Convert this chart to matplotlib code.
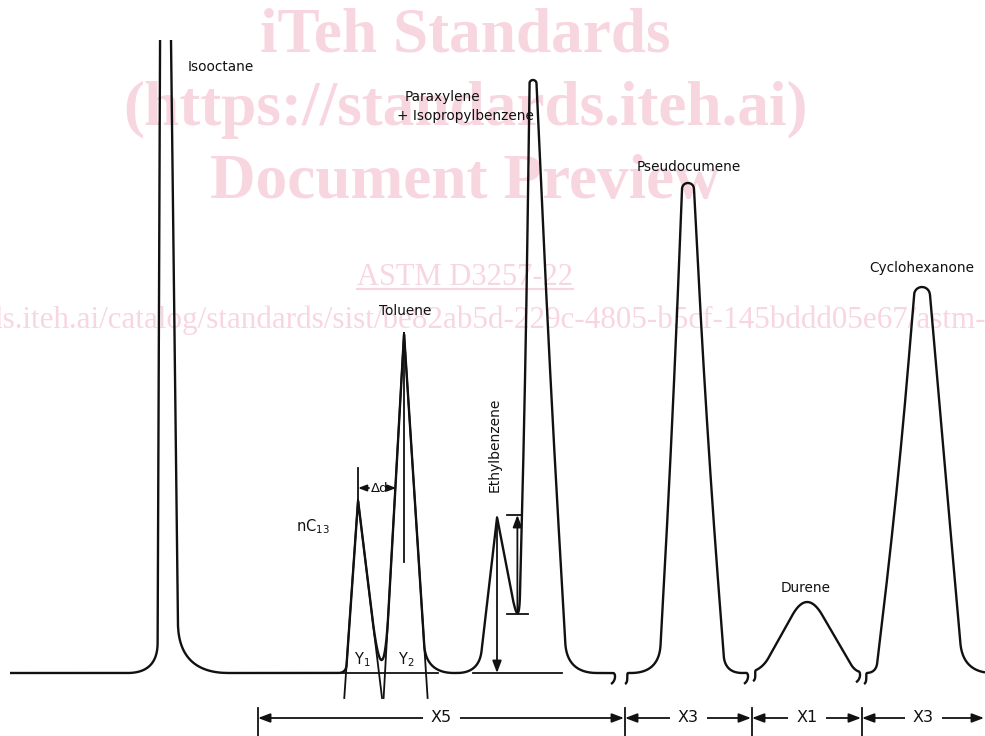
import numpy as np
import matplotlib
matplotlib.use('Agg')
import matplotlib.pyplot as plt
from matplotlib.patches import FancyArrowPatch, Rectangle

# Peaks, in plot units (1 unit = 1 pixel of the drawing): retention position,
# height above baseline, half-width at the base (tangent feet) and at half height.
PEAK_NAMES = ['Isooctane', 'nC13', 'Toluene', 'Ethylbenzene',
              'Paraxylene + Isopropylbenzene', 'Pseudocumene', 'Durene',
              'Cyclohexanone']
PEAK_RT = [163.5, 358, 404, 497, 533, 688, 807, 922]
PEAK_HEIGHT = [1266, 173, 340, 156, 593, 490, 84, 386]
FOOT_LEFT = [6, 12, 19, 18, 15, 29, 47, 46]
FOOT_RIGHT = [15, 21, 22, 30, 34, 37, 49, 41]
HALF_LEFT = [3.5, 6, 9.5, 9, 7.5, 15.5, 23.5, 23]
HALF_RIGHT = [7.5, 10.5, 11, 15, 17, 18.5, 24.5, 24]
MERGED_WITH_NEXT = [False, True, False, True, False, False, False, False]

# shape of the corners: round cap radius, tip / knee / foot / valley rounding
CAP = [0, 0, 0, 0, 3.5, 6, 0, 8]
TIP_ROUND = [0, 2, 3, 2, 0, 0, 30, 0]
KNEE_ROUND = [0, 0, 0, 0, 150, 160, 0, 140]
FOOT_ROUND_LEFT = [30, 8, 8, 22, 0, 28, 30, 20]
FOOT_ROUND_RIGHT = [50, 0, 28, 0, 30, 35, 30, 30]
VALLEY_ROUND = [0, 94, 0, 44, 0, 0, 0, 0]

# the trace is broken into pieces (time axis compressed)
SEGMENTS = [(10, 613), (628, 746), (756, 858), (867, 985)]
BASELINE = 673
TOP_CUT = 40          # isooctane goes off scale
TANGENT_END = 698

DIM_EDGES = [258, 625, 752, 862, 985]
DIM_LABELS = ['X5', 'X3', 'X1', 'X3']
DIM_Y = 718

LABELS = [
    ('Isooctane', 188, 67, 'left'),
    ('Paraxylene', 405, 97, 'left'),
    ('+ Isopropylbenzene', 397, 116, 'left'),
    ('Pseudocumene', 689, 167, 'center'),
    ('Cyclohexanone', 922, 268, 'center'),
    ('Toluene', 405, 311, 'center'),
    ('Durene', 806, 588, 'center'),
]

WATERMARK = [
    ('iTeh Standards', 465, 52, 45.5, 'bold', 'center'),
    ('(https://standards.iteh.ai)', 465, 125, 45.5, 'bold', 'center'),
    ('Document Preview', 465, 198, 45.5, 'bold', 'center'),
    ('ASTM D3257-22', 465, 285, 22, 'normal', 'center'),
    ('https://standards.iteh.ai/catalog/standards/sist/'
     'be82ab5d-229c-4805-b5cf-145bddd05e67/astm-', 986, 328, 22.4, 'normal', 'right'),
]
WM_COLOR = '#f8d6e0'
INK = '#111111'
LW = 1.7


def leg_x(i, side, resp):
    # straight tangent from the apex to the foot
    c, h = PEAK_RT[i], PEAK_HEIGHT[i]
    w = FOOT_LEFT[i] if side < 0 else FOOT_RIGHT[i]
    return c + side * w * (1 - resp / h)


def intersect(p1, p2, q1, q2):
    d1, d2 = p2 - p1, q2 - q1
    t = np.cross(q1 - p1, d2) / np.cross(d1, d2)
    return p1 + t * d1


def build_vertices():
    verts, radii, caps = [np.array([SEGMENTS[0][0], 0.0])], [0], {}

    def add(p, r):
        verts.append(np.asarray(p, float))
        radii.append(r)

    for i, c in enumerate(PEAK_RT):
        h = PEAK_HEIGHT[i]
        foot_l = np.array([c - FOOT_LEFT[i], 0.0])
        knee_l = np.array([c - HALF_LEFT[i], h / 2])
        knee_r = np.array([c + HALF_RIGHT[i], h / 2])
        foot_r = np.array([c + FOOT_RIGHT[i], 0.0])
        if i == 0 or not MERGED_WITH_NEXT[i - 1]:
            add(foot_l, FOOT_ROUND_LEFT[i])
        add(knee_l, KNEE_ROUND[i])
        rho = CAP[i]
        if rho > 0:
            cap_l = np.array([c - rho, h - rho])
            cap_r = np.array([c + rho, h - rho])
            t_l = (cap_l - knee_l) / np.hypot(*(cap_l - knee_l))
            t_r = (cap_r - knee_r) / np.hypot(*(cap_r - knee_r))
            add(cap_l, 0)
            caps[len(verts) - 1] = (cap_l + 4 / 3 * rho * t_l,
                                    cap_r + 4 / 3 * rho * t_r)
            add(cap_r, 0)
        else:
            add((c, h), TIP_ROUND[i])
        add(knee_r, KNEE_ROUND[i])
        if MERGED_WITH_NEXT[i]:
            j = i + 1
            cj, hj = PEAK_RT[j], PEAK_HEIGHT[j]
            add(intersect(foot_r, knee_r,
                          np.array([cj - FOOT_LEFT[j], 0.0]),
                          np.array([cj - HALF_LEFT[j], hj / 2])),
                VALLEY_ROUND[i])
        else:
            add(foot_r, FOOT_ROUND_RIGHT[i])
    add((SEGMENTS[-1][1] + 30, 0.0), 0)
    return verts, radii, caps


def round_corners(verts, radii, caps, n=32):
    t = np.linspace(0, 1, n)[:, None]
    pts = [verts[0][None]]
    for i in range(1, len(verts) - 1):
        p, c, q = verts[i - 1], verts[i], verts[i + 1]
        d1, d2 = np.hypot(*(p - c)), np.hypot(*(q - c))
        r = min(radii[i], max(d1 - radii[i - 1], d1 / 2),
                max(d2 - radii[i + 1], d2 / 2))
        if r <= 0:
            pts.append(c[None])
        else:
            a = c + r * (p - c) / d1
            b = c + r * (q - c) / d2
            pts.append((1 - t) ** 2 * a + 2 * t * (1 - t) * c + t ** 2 * b)
        if i in caps:
            k1, k2 = caps[i]
            pts.append(bezier(c, k1, k2, q, n)[1:-1])
    pts.append(verts[-1][None])
    return np.vstack(pts)


def bezier(p0, p1, p2, p3, n=20):
    t = np.linspace(0, 1, n)[:, None]
    p0, p1, p2, p3 = map(np.asarray, (p0, p1, p2, p3))
    return ((1 - t) ** 3 * p0 + 3 * t * (1 - t) ** 2 * p1 +
            3 * t ** 2 * (1 - t) * p2 + t ** 3 * p3)


def arrow(axes, a, b, style='-|>', scale=16, z=3):
    axes.add_patch(FancyArrowPatch(
        a, b, arrowstyle=f'{style},head_length=0.45,head_width=0.17',
        mutation_scale=scale, shrinkA=0, shrinkB=0, lw=1.3, color=INK,
        zorder=z))


fig = plt.figure(figsize=(9.85, 7.36), dpi=100)
ax = fig.add_axes([0, 0, 1, 1])
ax.set_xlim(0, 985)
ax.set_ylim(736, 0)
ax.axis('off')

# watermark
for text, x, y, size, weight, ha in WATERMARK:
    t = ax.text(x, y, text, ha=ha, va='baseline', fontsize=size,
                fontweight=weight, family='Liberation Serif', color=WM_COLOR,
                zorder=0)
    if text.startswith('ASTM'):
        fig.canvas.draw()
        bb = t.get_window_extent().transformed(ax.transData.inverted())
        ax.plot([bb.x0, bb.x1], [y + 4, y + 4], color=WM_COLOR, lw=1.5, zorder=0)

# chromatogram trace
verts, radii, caps = build_vertices()
pts = round_corners(verts, radii, caps)
X, R = pts[:, 0], pts[:, 1]
Y = BASELINE - R
clip = Rectangle((0, TOP_CUT), 985, 736, transform=ax.transData)
for k, (x0, x1) in enumerate(SEGMENTS):
    m = (X > x0) & (X < x1)
    seg = np.column_stack([np.r_[x0, X[m], x1],
                           np.r_[np.interp(x0, X, Y), Y[m], np.interp(x1, X, Y)]])
    if k > 0:
        s = seg[0]
        seg = np.vstack([bezier(s + (-3, 11), s + (1, 9), s + (-2, 1), s), seg])
    if k < len(SEGMENTS) - 1:
        e = seg[-1]
        seg = np.vstack([seg, bezier(e, e + (3, 0), e + (3, 8), e + (-2, 11))])
    line, = ax.plot(seg[:, 0], seg[:, 1], color=INK, lw=LW,
                    solid_joinstyle='round', solid_capstyle='butt', zorder=2)
    line.set_clip_path(clip)

# tangents of nC13 and toluene, extended below the baseline
for i in (1, 2):
    for side in (-1, 1):
        ax.plot([PEAK_RT[i], leg_x(i, side, BASELINE - TANGENT_END)],
                [BASELINE - PEAK_HEIGHT[i], TANGENT_END], color=INK, lw=1.3)
ax.plot([333, 438], [BASELINE, BASELINE], color=INK, lw=1.3)

# peak-maximum lines and delta d
nc_x, tol_x = PEAK_RT[1], PEAK_RT[2]
ax.plot([nc_x, nc_x], [BASELINE - PEAK_HEIGHT[1], 468], color=INK, lw=1.3)
ax.plot([tol_x, tol_x], [BASELINE - PEAK_HEIGHT[2], 562], color=INK, lw=1.3)
arrow(ax, (369, 488), (nc_x, 488), scale=11)
arrow(ax, (390, 488), (leg_x(2, -1, BASELINE - 488) + 1, 488), scale=11)
ax.text(380, 488, 'Δd', ha='center', va='center', fontsize=9.5, color=INK)
ax.text(296, 527, 'nC$_{13}$', ha='left', va='center', fontsize=10.5, color=INK)
ax.text(362, 660, 'Y$_1$', ha='center', va='center', fontsize=10.5, color=INK)
ax.text(406, 660, 'Y$_2$', ha='center', va='center', fontsize=10.5, color=INK)

# ethylbenzene / paraxylene valley
eb_x, eb_top = PEAK_RT[3], BASELINE - PEAK_HEIGHT[3]
m = (X > PEAK_RT[3]) & (X < PEAK_RT[4])
v = np.argmin(R[m])
val_x, val_y = X[m][v], Y[m][v]
ax.plot([eb_x - 24, eb_x + 65], [BASELINE, BASELINE], color=INK, lw=1.3)
arrow(ax, (eb_x, eb_top), (eb_x, BASELINE))
arrow(ax, (val_x, val_y), (val_x, eb_top - 2))
ax.plot([val_x - 10, val_x + 11], [val_y + 1, val_y + 1], color=INK, lw=1.3)
ax.plot([val_x - 10, val_x + 5], [eb_top - 2, eb_top - 2], color=INK, lw=1.3)
ax.text(495, 445, 'Ethylbenzene', rotation=90, ha='center', va='center',
        fontsize=10, color=INK)

for text, x, y, ha in LABELS:
    ax.text(x, y, text, ha=ha, va='center', fontsize=9.8, color=INK)

# dimension line along the bottom
for x in DIM_EDGES[:-1]:
    ax.plot([x, x], [708, 736], color=INK, lw=1.3)
for (a, b), lab in zip(zip(DIM_EDGES[:-1], DIM_EDGES[1:]), DIM_LABELS):
    arrow(ax, (a, DIM_Y), (b - 1, DIM_Y), style='<|-|>')
    ax.text((a + b) / 2, DIM_Y, lab, ha='center', va='center', fontsize=11.5,
            color=INK, zorder=4,
            bbox=dict(boxstyle='square,pad=0.5', fc='white', ec='none'))

fig.savefig('out.png', dpi=100)
